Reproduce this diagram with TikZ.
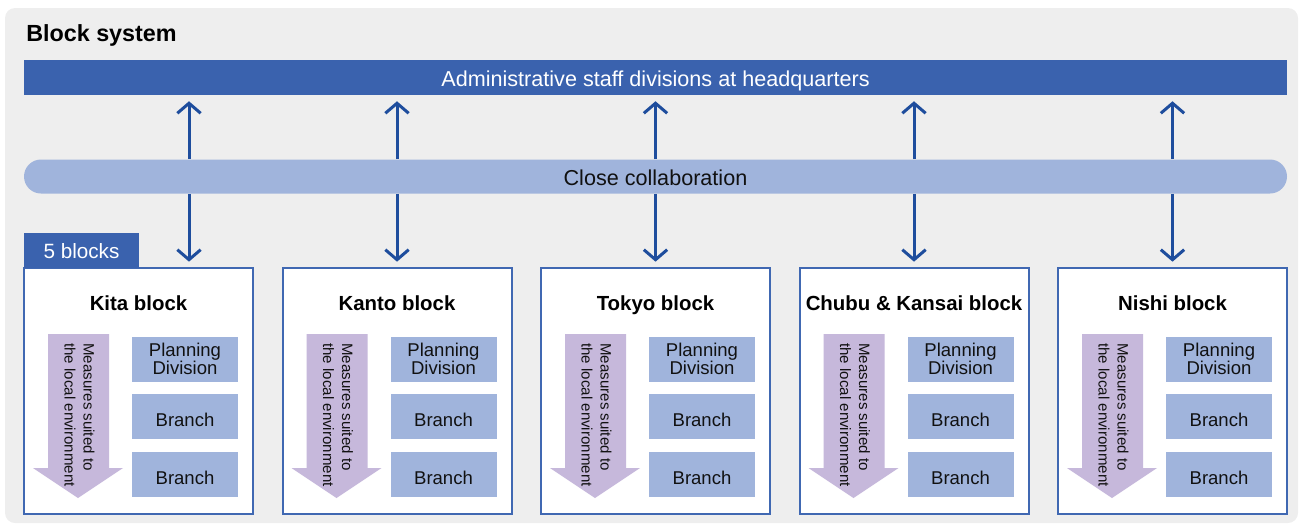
\documentclass[tikz,border=0pt]{standalone}
\usepackage{fontspec}
\setmainfont{Liberation Sans}
\usetikzlibrary{arrows.meta}
\definecolor{bggray}{HTML}{EEEEEE}
\definecolor{hqblue}{HTML}{3A62AE}
\definecolor{lightblue}{HTML}{A0B4DC}
\definecolor{lilac}{HTML}{C6B8DB}
\definecolor{arrowblue}{HTML}{1E4D9D}
\definecolor{borderblue}{HTML}{4068B2}
\definecolor{txt}{HTML}{111111}
\begin{document}
\begin{tikzpicture}[x=0.75pt,y=-0.75pt,
  hqbar/.style={fill=hqblue, text=white, minimum width=947.25pt, minimum height=26.25pt, inner sep=0pt,
    text height=12.75pt, text depth=0pt, font=\fontsize{16.2}{19}\selectfont},
  pillbar/.style={fill=lightblue, text=txt, rounded corners=12.75pt, minimum width=947.25pt, minimum height=25.5pt,
    inner sep=0pt, text height=12.75pt, text depth=0pt, font=\fontsize{16.2}{19}\selectfont},
  blockbox/.style={draw=borderblue, line width=1.5pt, fill=white, minimum width=171.75pt, minimum height=184.5pt, inner sep=0pt},
  tabbox/.style={fill=hqblue, text=white, minimum width=86.25pt, minimum height=26.25pt, inner sep=0pt,
    text height=12.5pt, text depth=0pt, font=\fontsize{15.5}{18}\selectfont},
  blocktitle/.style={inner sep=0pt, text=black, font=\fontsize{15.3}{18}\selectfont\bfseries},
  unitbox/.style={fill=lightblue, text=txt, minimum width=79.5pt, minimum height=33.75pt, inner sep=0pt,
    font=\fontsize{13.9}{14}\selectfont},
  branchbox/.style={unitbox, text height=15pt, text depth=0pt},
  measure/.style={rotate=-90, align=left, inner sep=0pt, text=txt, font=\fontsize{11.3}{14.2}\selectfont},
  linkarrow/.style={draw=arrowblue, line width=2.25pt, -{Straight Barb[length=7.5pt, width=17.5pt]}}
]
\useasboundingbox (0,0) rectangle (1303,526);
\fill[bggray, rounded corners=7.5pt] (5,8) rectangle (1298,523);

\node[anchor=base west, inner sep=0pt, font=\fontsize{17.5}{20}\selectfont\bfseries] (title) at (26,41) {Block system};

\node[hqbar] (hq) at (655.5,77.5) {Administrative staff divisions at headquarters};
\node[pillbar] (collab) at (655.5,176.5) {Close collaboration};

\foreach \i/\L/\ax/\name in {1/24/189/Kita block, 2/282.5/397/Kanto block, 3/541/655.5/Tokyo block, 4/799.5/914/Chubu \& Kansai block, 5/1058/1172.5/Nishi block}{
  \node[blockbox] (blk\i) at (\L+114.5,391) {};
  \node[blocktitle, anchor=base] (title\i) at (\L+114.5,310) {\name};
  \fill[lilac] (\L+24,334) -- (\L+85,334) -- (\L+85,468) -- (\L+99,468) -- (\L+54,498) -- (\L+9,468) -- (\L+24,468) -- cycle;
  \node[measure] (meas\i) at (\L+55.5,415) {Measures suited to\\the local environment};
  \node[unitbox, align=center] (plan\i) at (\L+161,359) {Planning\\Division};
  \node[branchbox] (bra\i) at (\L+161,416.5) {Branch};
  \node[branchbox] (brb\i) at (\L+161,474.5) {Branch};
  \coordinate (ax\i) at (\ax,176);
  \draw[linkarrow, shorten >=4.5pt] (collab.north -| ax\i) -- (hq.south -| ax\i);
  \draw[linkarrow, shorten >=4pt] (collab.south -| ax\i) -- (blk\i.north -| ax\i);
}

\node[tabbox] (tab) at (81.5,250.5) {5 blocks};
\end{tikzpicture}
\end{document}
